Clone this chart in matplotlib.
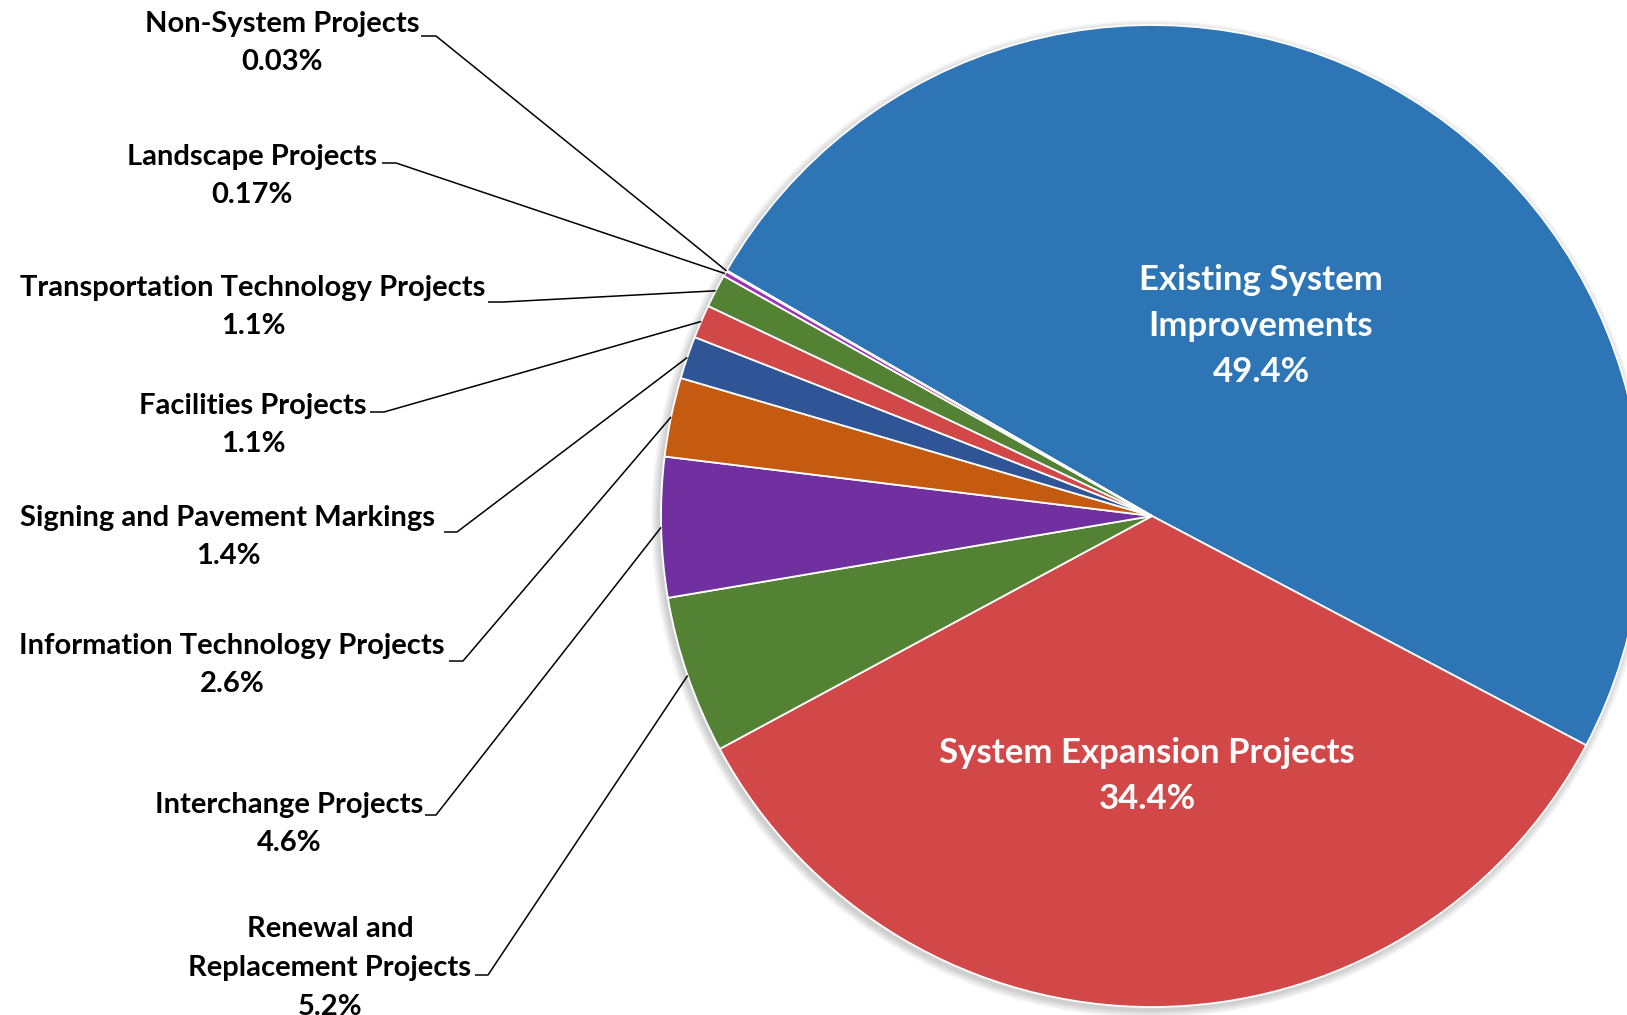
import numpy as np
import matplotlib.pyplot as plt

# Share of program funding by project category (percent)
categories = [
    "Existing System\nImprovements",
    "System Expansion Projects",
    "Renewal and\nReplacement Projects",
    "Interchange Projects",
    "Information Technology Projects",
    "Signing and Pavement Markings",
    "Facilities Projects",
    "Transportation Technology Projects",
    "Landscape Projects",
    "Non-System Projects",
]
shares = [49.4, 34.4, 5.2, 4.6, 2.6, 1.4, 1.1, 1.1, 0.17, 0.03]
colors = ["#2E75B6", "#D24747", "#548235", "#7030A0", "#C55A11",
          "#2F5597", "#D24747", "#548235", "#A030B8", "#4472C4"]

W, H = 1627, 1015
FONT = ["Lato", "DejaVu Sans"]

# canvas in pixel units, y measured upward
def py(y_top):
    return H - y_top

CENTER = (1152, py(516))
RADIUS = 491

# label block centre (x, y from top) and leader elbow (x0, x1, y from top)
outside_layout = {
    "Renewal and\nReplacement Projects": ((330, 968), (475, 488, 975)),
    "Interchange Projects": ((289, 824), (425, 436, 815)),
    "Information Technology Projects": ((232, 665), (449, 463, 661)),
    "Signing and Pavement Markings": ((228, 537), (444, 457, 532)),
    "Facilities Projects": ((253, 425), (370, 384, 412)),
    "Transportation Technology Projects": ((253, 307), (488, 503, 302)),
    "Landscape Projects": ((252, 176), (382, 396, 163)),
    "Non-System Projects": ((282, 43), (421, 436, 36)),
}
inside_layout = {
    "Existing System\nImprovements": (1261, 326),
    "System Expansion Projects": (1147, 776),
}

fig = plt.figure(figsize=(W / 100, H / 100), dpi=100)
ax = fig.add_axes([0, 0, 1, 1])

# soft shadow around the pie
for k in range(8):
    ax.add_patch(plt.Circle((CENTER[0] - 2, CENTER[1] - 3), RADIUS + 1 + k,
                            color="#000000", alpha=0.025, lw=0, zorder=0))

wedges, _ = ax.pie(shares, colors=colors, startangle=150, counterclock=False,
                   radius=RADIUS, center=CENTER,
                   wedgeprops=dict(edgecolor="white", linewidth=1.3))
for w in wedges:
    w.set_zorder(2)

for w, name, val in zip(wedges, categories, shares):
    text = f"{name}\n{val:g}%"
    if name in inside_layout:
        x, y = inside_layout[name]
        ax.text(x, py(y), text, ha="center", va="center", color="white",
                fontsize=25, fontweight="bold", family=FONT,
                linespacing=1.55, zorder=5)
        continue
    (tx, ty), (ex0, ex1, ey) = outside_layout[name]
    ax.text(tx, py(ty), text, ha="center", va="center", color="black",
            fontsize=21, fontweight="bold", family=FONT,
            linespacing=1.6, zorder=5)
    # leader from the label to the middle of the slice's outer edge
    mid = np.deg2rad((w.theta1 + w.theta2) / 2)
    px = CENTER[0] + RADIUS * np.cos(mid)
    pyy = CENTER[1] + RADIUS * np.sin(mid)
    ax.plot([ex0, ex1, px], [py(ey), py(ey), pyy], color="black",
            lw=1.1, solid_capstyle="butt", zorder=4)

ax.set_xlim(0, W)
ax.set_ylim(0, H)
ax.set_aspect("equal")
ax.axis("off")

fig.savefig("out.png", dpi=100, facecolor="white")
